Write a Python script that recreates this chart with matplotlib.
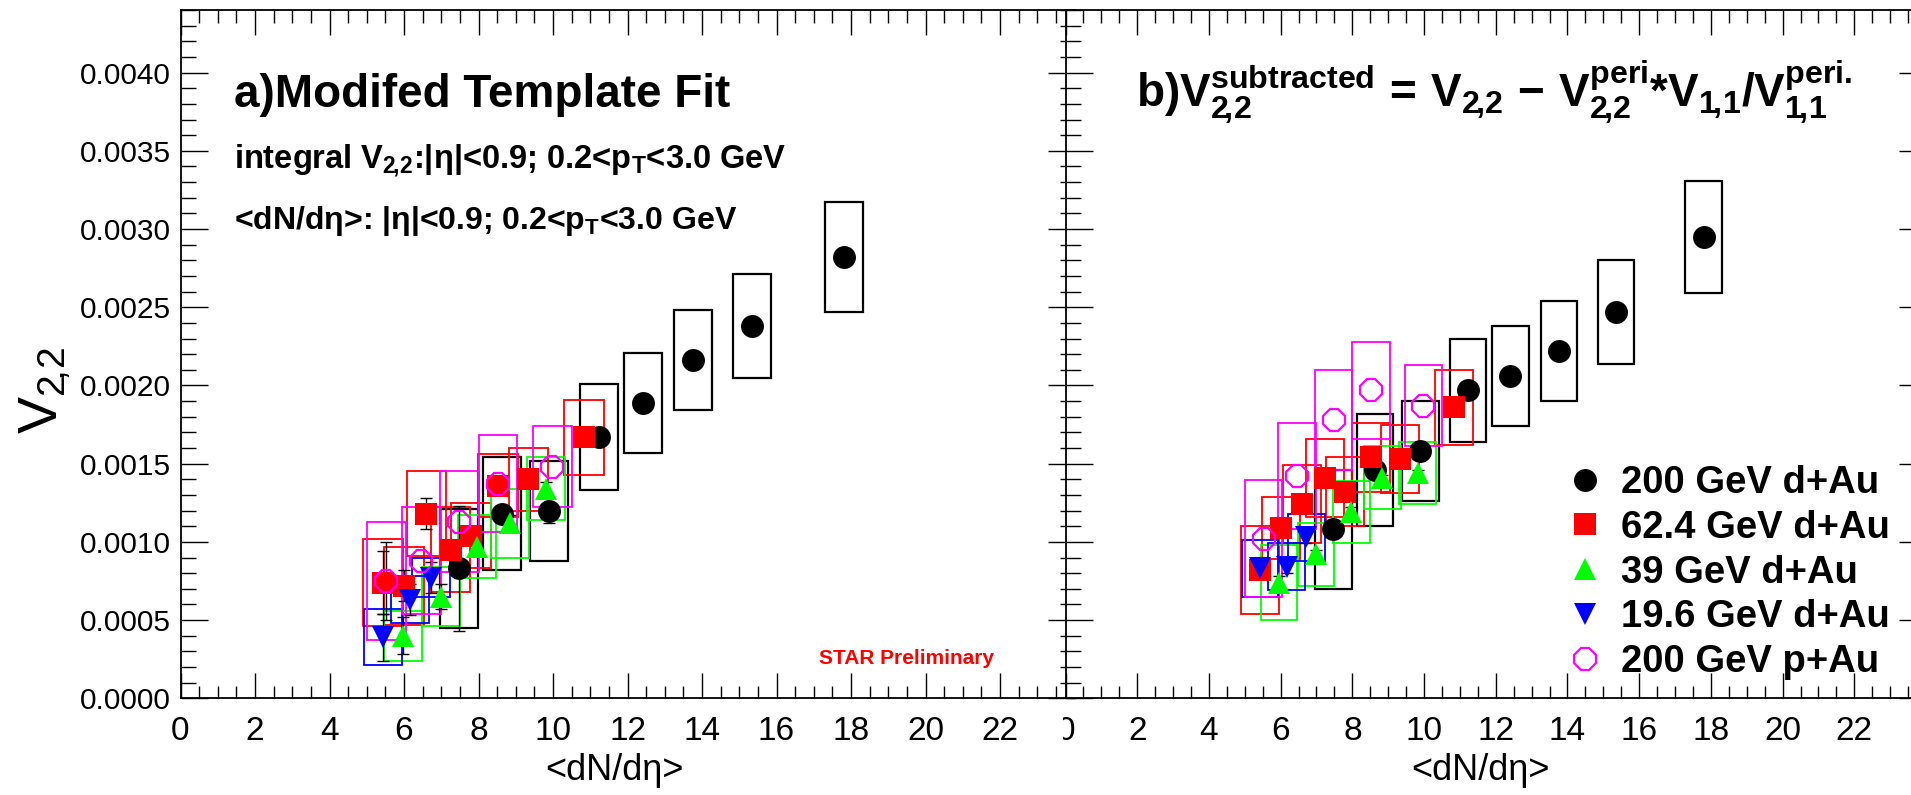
import numpy as np
import matplotlib
matplotlib.use('Agg')
import matplotlib.pyplot as plt
from matplotlib.ticker import MultipleLocator, FixedLocator, FormatStrFormatter
from matplotlib.patches import Rectangle

plt.rcParams['font.family'] = ['Liberation Sans', 'DejaVu Sans']
plt.rcParams['mathtext.fontset'] = 'custom'
plt.rcParams['mathtext.rm'] = 'Liberation Sans'
plt.rcParams['mathtext.bf'] = 'Liberation Sans:bold'
plt.rcParams['mathtext.it'] = 'Liberation Sans:italic'
plt.rcParams['mathtext.default'] = 'regular'

# <dN/deta> for each system
x_200dau = [7.47, 8.63, 9.90, 11.23, 12.41, 13.77, 15.35, 17.80]
x_62dau = [5.43, 6.00, 6.60, 7.25, 7.80, 8.52, 9.34, 10.83]
x_39dau = [5.96, 6.99, 7.97, 8.84, 9.82]
x_19dau = [5.43, 6.17, 6.72]
x_200pau = [5.53, 6.46, 7.48, 8.52, 9.98]

# a) modified template fit
v22_200dau_a = [0.00083, 0.00118, 0.00120, 0.00167, 0.00189, 0.00216, 0.00238, 0.00282]
sys_200dau_a = [0.00038, 0.00036, 0.00032, 0.00034, 0.00032, 0.00032, 0.00033, 0.00035]
stat_200dau_a = [0.00040, 0.00004, 0.00008, 0.00003, 0.00003, 0.00003, 0.00003, 0.00003]
v22_62dau_a = [0.00074, 0.00072, 0.00118, 0.00095, 0.00104, 0.00136, 0.00140, 0.00167]
sys_62dau_a = [0.00028, 0.00025, 0.00027, 0.00027, 0.00021, 0.00020, 0.00020, 0.00024]
stat_62dau_a = [0.00020, 0.00010, 0.00010, 0.00006, 0.00005, 0.00004, 0.00004, 0.00003]
v22_39dau_a = [0.00040, 0.00065, 0.00097, 0.00112, 0.00134]
sys_39dau_a = [0.00016, 0.00019, 0.00020, 0.00022, 0.00020]
stat_39dau_a = [0.00012, 0.00008, 0.00006, 0.00005, 0.00004]
v22_19dau_a = [0.00039, 0.00063, 0.00077]
sys_19dau_a = [0.00018, 0.00015, 0.000125]
stat_19dau_a = [0.00015, 0.00010, 0.00010]
v22_200pau_a = [0.00075, 0.00088, 0.00113, 0.00137, 0.00148]
sys_200pau_a = [0.00038, 0.00034, 0.00032, 0.00031, 0.00026]
stat_200pau_a = [0.00025, 0.0, 0.0, 0.0, 0.0]

# b) peripheral-subtracted v22
v22_200dau_b = [0.00108, 0.00146, 0.00158, 0.00197, 0.00206, 0.00222, 0.00247, 0.00295]
sys_200dau_b = [0.00038, 0.00036, 0.00032, 0.00033, 0.00032, 0.00032, 0.00033, 0.00036]
stat_200dau_b = [0.00005, 0.00003, 0.00002, 0.00002, 0.00002, 0.00002, 0.00002, 0.00002]
v22_62dau_b = [0.00082, 0.00109, 0.00124, 0.00141, 0.00132, 0.00154, 0.00153, 0.00186]
sys_62dau_b = [0.00028, 0.00020, 0.00025, 0.00025, 0.00022, 0.00022, 0.00022, 0.00024]
stat_62dau_b = [0.00004, 0.00006, 0.00003, 0.00003, 0.00003, 0.00002, 0.00002, 0.00002]
v22_39dau_b = [0.00074, 0.00092, 0.00119, 0.00141, 0.00144]
sys_39dau_b = [0.00024, 0.00020, 0.00020, 0.00020, 0.00020]
stat_39dau_b = [0.00004, 0.00003, 0.00003, 0.00002, 0.00002]
v22_19dau_b = [0.00083, 0.00084, 0.00103]
sys_19dau_b = [0.00018, 0.00015, 0.00015]
stat_19dau_b = [0.00005, 0.00004, 0.00004]
v22_200pau_b = [0.00102, 0.00142, 0.00178, 0.00197, 0.00187]
sys_200pau_b = [0.000375, 0.00034, 0.00032, 0.00031, 0.00026]
stat_200pau_b = [0.0, 0.0, 0.0, 0.0, 0.0]

labels = ['200 GeV d+Au', '62.4 GeV d+Au', '39 GeV d+Au', '19.6 GeV d+Au', '200 GeV p+Au']

W, H = 1911, 795
fig = plt.figure(figsize=(W / 100, H / 100), dpi=100)


def px_rect(x0, x1, ytop, ybot):
    return [x0 / W, 1 - ybot / H, (x1 - x0) / W, (ybot - ytop) / H]


ax_a = fig.add_axes(px_rect(180.5, 1074.5, 10, 698.3))
ax_b = fig.add_axes(px_rect(1065.5, 1926, 10, 698.3))
ax_b.set_zorder(2)
ax_b.set_facecolor('white')


def draw(ax, x, y, stat, sys, color, marker, hw, ms, filled=True, lw=1.3):
    x = np.asarray(x)
    y = np.asarray(y)
    stat = np.asarray(stat)
    sys = np.asarray(sys)
    ax.bar(x, 2 * sys, width=2 * hw, bottom=y - sys, fill=False,
           edgecolor=color, linewidth=lw, zorder=2)
    m = stat > 0
    if m.any():
        ax.errorbar(x[m], y[m], yerr=stat[m], fmt='none', ecolor='black',
                    elinewidth=1.0, capsize=4, capthick=1.0, zorder=3)
    if filled:
        h, = ax.plot(x, y, ls='none', marker=marker, ms=ms, mfc=color,
                     mec=color, mew=0, zorder=4)
    else:
        h, = ax.plot(x, y, ls='none', marker=marker, ms=ms, mfc='none',
                     mec=color, mew=1.6, zorder=5)
    return h


def draw_panel(ax, d):
    hs = []
    hs.append(draw(ax, x_200dau, d[0][0], d[0][1], d[0][2], 'black', 'o', 0.51, 16.5, lw=1.6))
    hs.append(draw(ax, x_62dau, d[1][0], d[1][1], d[1][2], '#ff0000', 's', 0.53, 16))
    hs.append(draw(ax, x_39dau, d[2][0], d[2][1], d[2][2], '#00ff00', '^', 0.51, 16))
    hs.append(draw(ax, x_19dau, d[3][0], d[3][1], d[3][2], '#0000ff', 'v', 0.51, 16))
    hs.append(draw(ax, x_200pau, d[4][0], d[4][1], d[4][2], '#ff00ff', '8', 0.52, 16.5, filled=False))
    return hs


draw_panel(ax_a, [(v22_200dau_a, stat_200dau_a, sys_200dau_a),
                  (v22_62dau_a, stat_62dau_a, sys_62dau_a),
                  (v22_39dau_a, stat_39dau_a, sys_39dau_a),
                  (v22_19dau_a, stat_19dau_a, sys_19dau_a),
                  (v22_200pau_a, stat_200pau_a, sys_200pau_a)])
handles = draw_panel(ax_b, [(v22_200dau_b, stat_200dau_b, sys_200dau_b),
                            (v22_62dau_b, stat_62dau_b, sys_62dau_b),
                            (v22_39dau_b, stat_39dau_b, sys_39dau_b),
                            (v22_19dau_b, stat_19dau_b, sys_19dau_b),
                            (v22_200pau_b, stat_200pau_b, sys_200pau_b)])

for ax in (ax_a, ax_b):
    ax.set_xlim(0, 24)
    ax.set_ylim(0, 0.0044)
    ax.xaxis.set_major_locator(FixedLocator(np.arange(0, 23, 2)))
    ax.xaxis.set_minor_locator(MultipleLocator(0.5))
    ax.yaxis.set_major_locator(MultipleLocator(0.0005))
    ax.yaxis.set_minor_locator(MultipleLocator(0.0001))
    ax.tick_params(axis='both', which='both', direction='in', top=True,
                   right=True, width=1.0)
    ax.tick_params(axis='x', which='major', length=18, labelsize=24, pad=13)
    ax.tick_params(axis='x', which='minor', length=9)
    ax.tick_params(axis='y', which='major', length=19.5, labelsize=21.5, pad=7)
    ax.tick_params(axis='y', which='minor', length=11)
    for s in ax.spines.values():
        s.set_linewidth(1.3)
    ax.set_xlabel('<dN/dη>', fontsize=26)

ax_a.yaxis.set_major_formatter(FormatStrFormatter('%.4f'))
ax_b.tick_params(axis='y', labelleft=False)
ax_a.xaxis.set_label_coords(0.486, -0.08)
ax_b.xaxis.set_label_coords(0.4826, -0.08)
ax_a.set_ylabel(r'$V_{2\!,\!2}$', fontsize=40)
ax_a.yaxis.set_label_coords(-0.12, 0.448)

# the left pad hides the left half of the right panel's "0"
fig.add_artist(Rectangle((1040 / W, 30 / H), 23 / W, 60 / H,
                         transform=fig.transFigure, facecolor='white',
                         edgecolor='none', zorder=10))

ax_a.text(0.06, 0.859, 'a)Modifed Template Fit', transform=ax_a.transAxes,
          fontsize=33, fontweight='bold', va='baseline')
ax_a.text(0.06, 0.771, r'integral $\mathbf{V_{2\!,\!2}}$:|η|<0.9; 0.2<$\mathbf{p_{T}}$<3.0 GeV',
          transform=ax_a.transAxes, fontsize=23.5, fontweight='bold', va='baseline')
ax_a.text(0.06, 0.682, r'<dN/dη>: |η|<0.9; 0.2<$\mathbf{p_{T}}$<3.0 GeV',
          transform=ax_a.transAxes, fontsize=23, fontweight='bold', va='baseline')
ax_a.text(0.714, 0.05, 'STAR Preliminary', transform=ax_a.transAxes,
          fontsize=15, fontweight='bold', color='#ff0000', va='baseline')

ax_b.text(0.082, 0.859,
          r'$\mathbf{b)V_{2\!,\!2}^{subtracted}\,=\,V_{2\!,\!2}\,-\,V_{2\!,\!2}^{peri}{*}V_{1\!,\!1}/V_{1\!,\!1}^{peri.}}$',
          transform=ax_b.transAxes, fontsize=33, va='baseline')

ax_b.legend(handles, labels, loc='upper left', bbox_to_anchor=(1566 / W, 1 - 465 / H),
            bbox_transform=fig.transFigure, frameon=False, borderpad=0,
            borderaxespad=0, handlelength=1.0, handletextpad=0.44,
            labelspacing=0.23, prop={'size': 27.5, 'weight': 'bold'})

fig.savefig('out.png', dpi=100, facecolor='white')
